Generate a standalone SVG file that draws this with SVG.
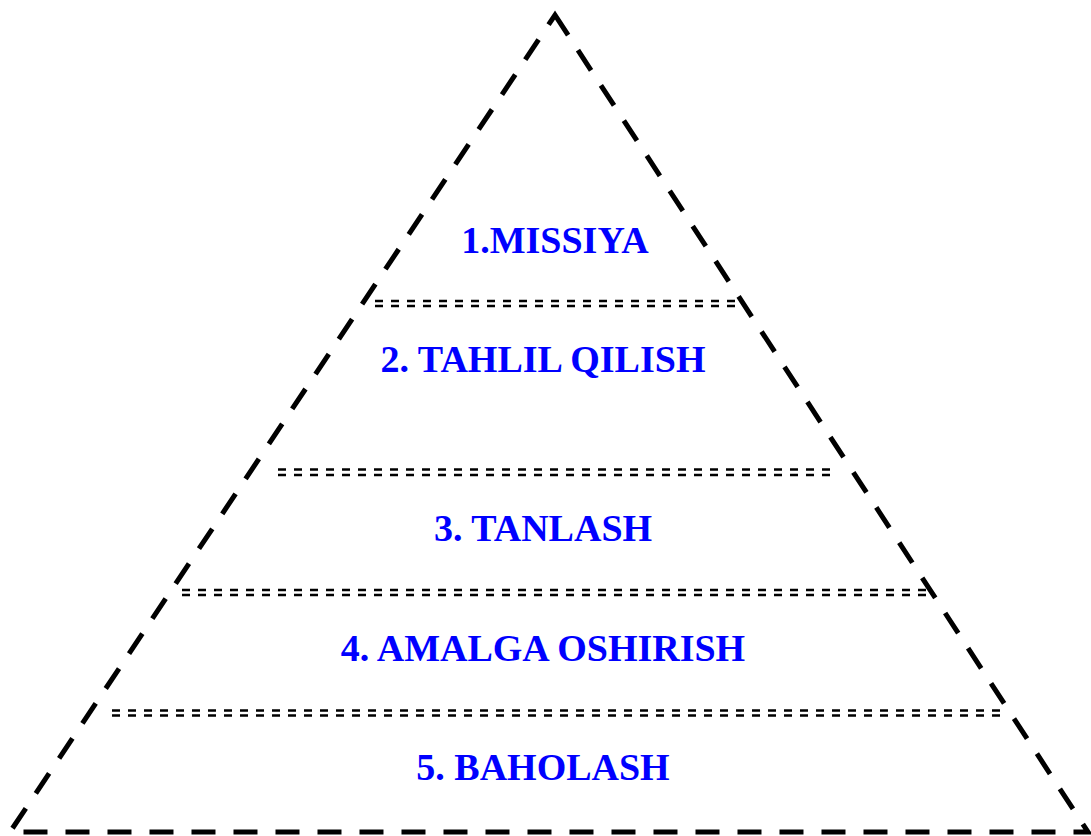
<svg xmlns="http://www.w3.org/2000/svg" width="1091" height="836" viewBox="0 0 1091 836">
<style>
.tri{fill:none;stroke:#000;stroke-width:5;stroke-dasharray:24 18;stroke-linejoin:miter}
.sep{stroke:#000;stroke-width:2.5;stroke-dasharray:8 8;fill:none}
.lbl{font-family:"Liberation Serif","Times New Roman",serif;font-weight:bold;font-size:38px;fill:#0000ff;text-anchor:middle}
</style>
<rect width="1091" height="836" fill="#fff"/>
<g id="pyramid">
<path class="tri" d="M555,15 L1088,832 L10,832 Z"/>
</g>
<g id="connectors">
<path class="sep" d="M375,301 H742 M375,306 H742"/>
<path class="sep" d="M278,469.5 H834 M278,475 H834"/>
<path class="sep" d="M182,590 H930 M182,595 H930"/>
<path class="sep" d="M112,710.5 H1002 M112,715.5 H1002"/>
</g>
<g id="level1"><text class="lbl" x="555" y="253">1.MISSIYA</text></g>
<g id="level2"><text class="lbl" x="543" y="372">2. TAHLIL QILISH</text></g>
<g id="level3"><text class="lbl" x="543" y="541">3. TANLASH</text></g>
<g id="level4"><text class="lbl" x="543" y="661">4. AMALGA OSHIRISH</text></g>
<g id="level5"><text class="lbl" x="543" y="780">5. BAHOLASH</text></g>
</svg>
